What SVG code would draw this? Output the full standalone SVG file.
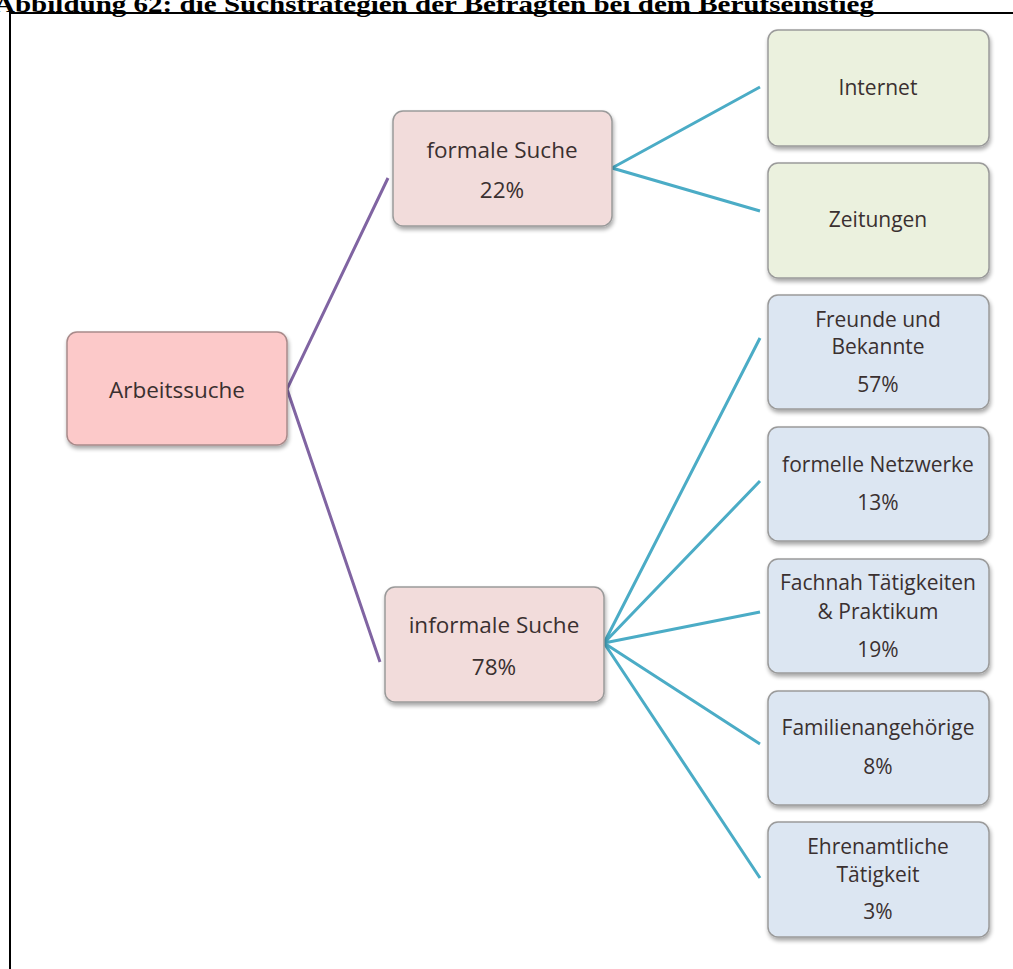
<svg xmlns="http://www.w3.org/2000/svg" width="1013" height="969" viewBox="0 0 1013 969">
<style>
.t{font-family:"Open Sans","Liberation Sans",sans-serif;font-size:21px;fill:#3a3030;text-anchor:middle}
.m{font-size:22.5px}
.box{stroke:#9a9a9a;stroke-width:1.5}
.pk{fill:#fcc9c9;stroke:#a88a8a}
.rs{fill:#f2dcdb}
.gr{fill:#ebf1de}
.bl{fill:#dce6f2}
.c1{stroke:#8064a2;stroke-width:3;fill:none}
.c2{stroke:#4bacc6;stroke-width:3;fill:none}
.title{font-family:"Liberation Serif","Times New Roman",serif;font-weight:bold;font-size:23px;fill:#000}
</style>
<defs>
<filter id="sh" x="-10%" y="-10%" width="125%" height="130%">
<feGaussianBlur in="SourceAlpha" stdDeviation="2"/>
<feOffset dx="1" dy="3"/>
<feComponentTransfer><feFuncA type="linear" slope="0.35"/></feComponentTransfer>
<feMerge><feMergeNode/><feMergeNode in="SourceGraphic"/></feMerge>
</filter>
</defs>
<rect width="1013" height="969" fill="#fff"/>
<text class="title" x="-6" y="12" textLength="880" lengthAdjust="spacingAndGlyphs">Abbildung 62: die Suchstrategien der Befragten bei dem Berufseinstieg</text>
<path d="M10 969 V13 H1013" fill="none" stroke="#000" stroke-width="2"/>
<g id="connectors">
<path class="c1" d="M388 178 L287 389 L380 662"/>
<path class="c2" d="M760 87 L612 168 L760 211"/>
<path class="c2" d="M760 338 L604 643 M760 481 L604 643 M760 612 L604 643 M760 744 L604 643 M760 878 L604 643"/>
</g>
<g id="n-arbeitssuche"><rect class="box pk" x="67" y="332" width="220" height="113" rx="10" filter="url(#sh)"/><text class="t m" x="177" y="398">Arbeitssuche</text></g>
<g id="n-formal"><rect class="box rs" x="393" y="111" width="219" height="115" rx="10" filter="url(#sh)"/><text class="t m" x="502" y="158">formale Suche</text><text class="t m" x="502" y="198">22%</text></g>
<g id="n-informal"><rect class="box rs" x="385" y="587" width="219" height="115" rx="10" filter="url(#sh)"/><text class="t m" x="494" y="633">informale Suche</text><text class="t m" x="494" y="675">78%</text></g>
<g id="n-internet"><rect class="box gr" x="768" y="30" width="221" height="116" rx="10" filter="url(#sh)"/><text class="t" x="878" y="95">Internet</text></g>
<g id="n-zeitungen"><rect class="box gr" x="768" y="163" width="221" height="115" rx="10" filter="url(#sh)"/><text class="t" x="878" y="227">Zeitungen</text></g>
<g id="n-freunde"><rect class="box bl" x="768" y="295" width="221" height="114" rx="10" filter="url(#sh)"/><text class="t" x="878" y="327">Freunde und</text><text class="t" x="878" y="354">Bekannte</text><text class="t" x="878" y="392">57%</text></g>
<g id="n-netzwerke"><rect class="box bl" x="768" y="427" width="221" height="114" rx="10" filter="url(#sh)"/><text class="t" x="878" y="472">formelle Netzwerke</text><text class="t" x="878" y="510">13%</text></g>
<g id="n-fachnah"><rect class="box bl" x="768" y="559" width="221" height="114" rx="10" filter="url(#sh)"/><text class="t" x="878" y="590">Fachnah Tätigkeiten</text><text class="t" x="878" y="619">&amp; Praktikum</text><text class="t" x="878" y="657">19%</text></g>
<g id="n-familie"><rect class="box bl" x="768" y="691" width="221" height="114" rx="10" filter="url(#sh)"/><text class="t" x="878" y="735">Familienangehörige</text><text class="t" x="878" y="774">8%</text></g>
<g id="n-ehrenamt"><rect class="box bl" x="768" y="822" width="221" height="115" rx="10" filter="url(#sh)"/><text class="t" x="878" y="854">Ehrenamtliche</text><text class="t" x="878" y="882">Tätigkeit</text><text class="t" x="878" y="919">3%</text></g>
</svg>
